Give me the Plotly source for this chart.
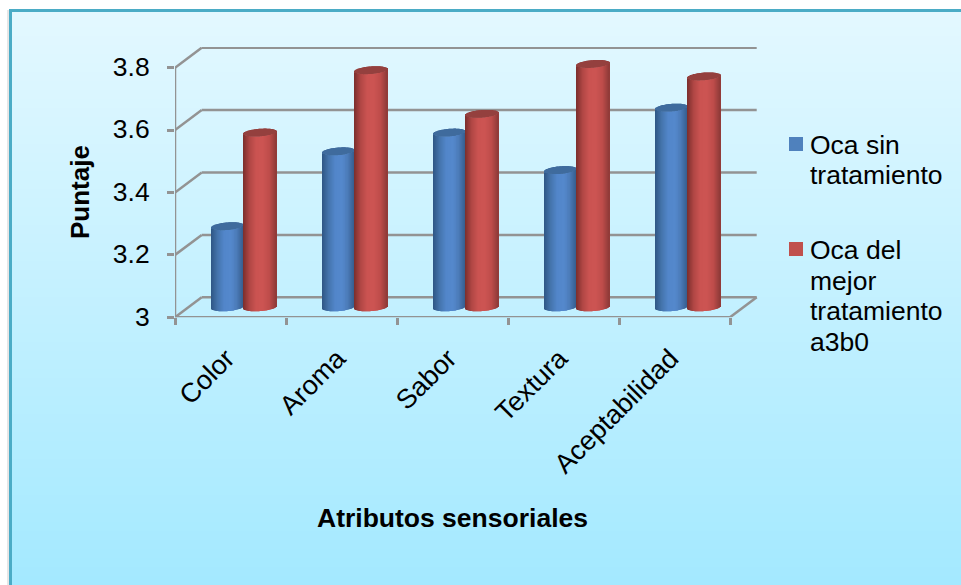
import numpy as np
import plotly.graph_objects as go

# Sensory scores per attribute
categories = ["Color", "Aroma", "Sabor", "Textura", "Aceptabilidad"]
sin_tratamiento = [3.26, 3.50, 3.56, 3.44, 3.64]
mejor_tratamiento = [3.56, 3.76, 3.62, 3.78, 3.74]
y_ticks = [3, 3.2, 3.4, 3.6, 3.8]
y_tick_labels = ["3", "3.2", "3.4", "3.6", "3.8"]

W, H = 961, 585
LEFT, RIGHT, BOTTOM, TOP = 175, 758, 317.3, 47
PX_PER_CAT, PX_PER_UNIT = 111, 312

# Pseudo-3D box: the back wall sits up and to the right of the front plane
DEPTH_X = 26.7 / PX_PER_CAT
DEPTH_Y = 20 / PX_PER_UNIT
CYL_W = 32.5 / PX_PER_CAT
CAP_E = 3.8 / PX_PER_UNIT
CAP_TILT = 1.2 / PX_PER_UNIT
STRIPS = 33
GRID = "#939393"
FONT = "Liberation Sans"


def px_x(px):
    return px / W


def px_y(px):
    return 1 - px / H


def mix(stops, t):
    pos = np.linspace(-1, 1, len(stops))
    chans = [np.interp(t, pos, [s[i] for s in stops]) for i in range(3)]
    return "rgb({:.0f},{:.0f},{:.0f})".format(*chans)


def cylinders(values, side, cap_colour, centre_shift, name):
    """One bar trace of thin strips: shaded wall plus elliptical top."""
    xs, heights, bases, colours = [], [], [], []
    ts = (np.arange(STRIPS) + 0.5) / STRIPS * 2 - 1
    for i, v in enumerate(values):
        cx = i + 0.5 + DEPTH_X / 2 + centre_shift
        for t in ts:
            arc = CAP_E * np.sqrt(1 - t * t)
            mid = DEPTH_Y / 2 + CAP_TILT * t
            x = cx + t * CYL_W / 2
            # cylinder wall with a curved lower and upper edge
            xs.append(x)
            bases.append(3 + mid - arc)
            heights.append(v - 3)
            colours.append(mix(side, t))
            # top cap
            xs.append(x)
            bases.append(v + mid - arc)
            heights.append(2 * arc)
            colours.append(cap_colour)
    return go.Bar(
        x=xs, y=heights, base=bases, width=CYL_W / STRIPS,
        marker=dict(color=colours, line=dict(width=0)),
        name=name, showlegend=False, hoverinfo="skip", cliponaxis=False,
    )


blue_side = [(46, 86, 132), (68, 116, 172), (82, 134, 202), (84, 136, 204),
             (76, 124, 186), (54, 94, 142)]
red_side = [(122, 46, 44), (176, 70, 68), (203, 83, 81), (204, 84, 82),
            (190, 76, 74), (142, 58, 56)]

fig = go.Figure()
fig.add_trace(cylinders(sin_tratamiento, blue_side, "#3f6b9d", -CYL_W / 2,
                        "Oca sin tratamiento"))
fig.add_trace(cylinders(mejor_tratamiento, red_side, "#94403e", CYL_W / 2,
                        "Oca del mejor tratamiento a3b0"))

shapes = []

# Vertical background gradient and the frame around it
GRAD_STEPS = 64
edges = np.linspace(9, H, GRAD_STEPS + 1)
for a, b in zip(edges[:-1], edges[1:]):
    f = (a - 9) / (H - 9)
    c = [227 + (163 - 227) * f, 248 + (233 - 248) * f, 255]
    shapes.append(dict(type="rect", xref="paper", yref="paper", layer="below",
                       x0=px_x(9), x1=1, y0=px_y(b + 0.5), y1=px_y(a),
                       fillcolor="rgb({:.0f},{:.0f},{:.0f})".format(*c),
                       line=dict(width=0)))
for x0, x1, y0, y1, colour in [
    (7, 9, 10, H, "#e6e6e6"),
    (9, 12, 9, H, "#4bacc6"),
    (9, W, 9, 12, "#4bacc6"),
]:
    shapes.append(dict(type="rect", xref="paper", yref="paper", layer="below",
                       x0=px_x(x0), x1=px_x(x1), y0=px_y(y1), y1=px_y(y0),
                       fillcolor=colour, line=dict(width=0)))


def wall(x0, y0, x1, y1):
    shapes.append(dict(type="line", xref="x", yref="y", layer="below",
                       x0=x0, y0=y0, x1=x1, y1=y1,
                       line=dict(color=GRID, width=2.5)))


n = len(categories)
for v in y_ticks:
    wall(0, v, DEPTH_X, v + DEPTH_Y)
    wall(DEPTH_X, v + DEPTH_Y, n + DEPTH_X, v + DEPTH_Y)
wall(0, y_ticks[0], 0, y_ticks[-1])
wall(0, y_ticks[0], n, y_ticks[0])
wall(n, y_ticks[0], n + DEPTH_X, y_ticks[0] + DEPTH_Y)

# Legend: square swatches with hand-broken label lines
legend_items = [
    ("#4f81bd", 144, [("Oca sin", 145), ("tratamiento", 175)]),
    ("#c0504d", 249, [("Oca del", 250), ("mejor", 281),
                      ("tratamiento", 311), ("a3b0", 342)]),
]
annotations = []
for colour, swatch_y, lines in legend_items:
    shapes.append(dict(type="rect", xref="paper", yref="paper",
                       x0=px_x(789), x1=px_x(803),
                       y0=px_y(swatch_y + 7), y1=px_y(swatch_y - 7),
                       fillcolor=colour, line=dict(width=0)))
    for text, y in lines:
        annotations.append(dict(text=text, xref="paper", yref="paper",
                                x=px_x(807.5), y=px_y(y), xanchor="left",
                                yanchor="middle", showarrow=False,
                                font=dict(family=FONT, size=26.5, color="#000000")))

annotations.append(dict(text="<b>Atributos sensoriales</b>", xref="paper", yref="paper",
                        x=px_x(452), y=px_y(518), xanchor="center", yanchor="middle",
                        showarrow=False, font=dict(family=FONT, size=26.5, color="#000000")))
annotations.append(dict(text="<b>Puntaje</b>", xref="paper", yref="paper",
                        x=px_x(80), y=px_y(192), xanchor="center", yanchor="middle",
                        textangle=-90, showarrow=False,
                        font=dict(family=FONT, size=26, color="#000000")))

fig.update_layout(
    width=W, height=H, autosize=False,
    margin=dict(l=0, r=0, t=0, b=0, pad=0),
    paper_bgcolor="#ffffff", plot_bgcolor="rgba(0,0,0,0)",
    barmode="overlay", shapes=shapes, annotations=annotations,
    showlegend=False,
    xaxis=dict(
        domain=[px_x(LEFT), px_x(RIGHT)],
        range=[0, (RIGHT - LEFT) / PX_PER_CAT],
        showgrid=False, zeroline=False, showline=False, automargin=False,
        tickmode="array", tickvals=[i + 0.5 for i in range(n)], ticktext=categories,
        tickangle=-45, ticks="", ticklen=0,
        ticklabelstandoff=19, ticklabelshift=-4,
        tickfont=dict(family=FONT, size=27, color="#000000"),
        minor=dict(tickmode="array", tickvals=list(range(n + 1)), ticks="outside",
                   ticklen=7, tickwidth=2.5, tickcolor=GRID, showgrid=False),
    ),
    yaxis=dict(
        domain=[px_y(BOTTOM), px_y(TOP)],
        range=[3, 3 + (BOTTOM - TOP) / PX_PER_UNIT],
        showgrid=False, zeroline=False, showline=False, automargin=False,
        tickmode="array", tickvals=y_ticks, ticktext=y_tick_labels,
        ticks="outside", ticklen=7, tickwidth=2.5, tickcolor=GRID,
        ticklabelstandoff=12, ticklabelshift=-1,
        tickfont=dict(family=FONT, size=26.5, color="#000000"),
    ),
)

fig.write_html("out.html", config=dict(displayModeBar=False))
